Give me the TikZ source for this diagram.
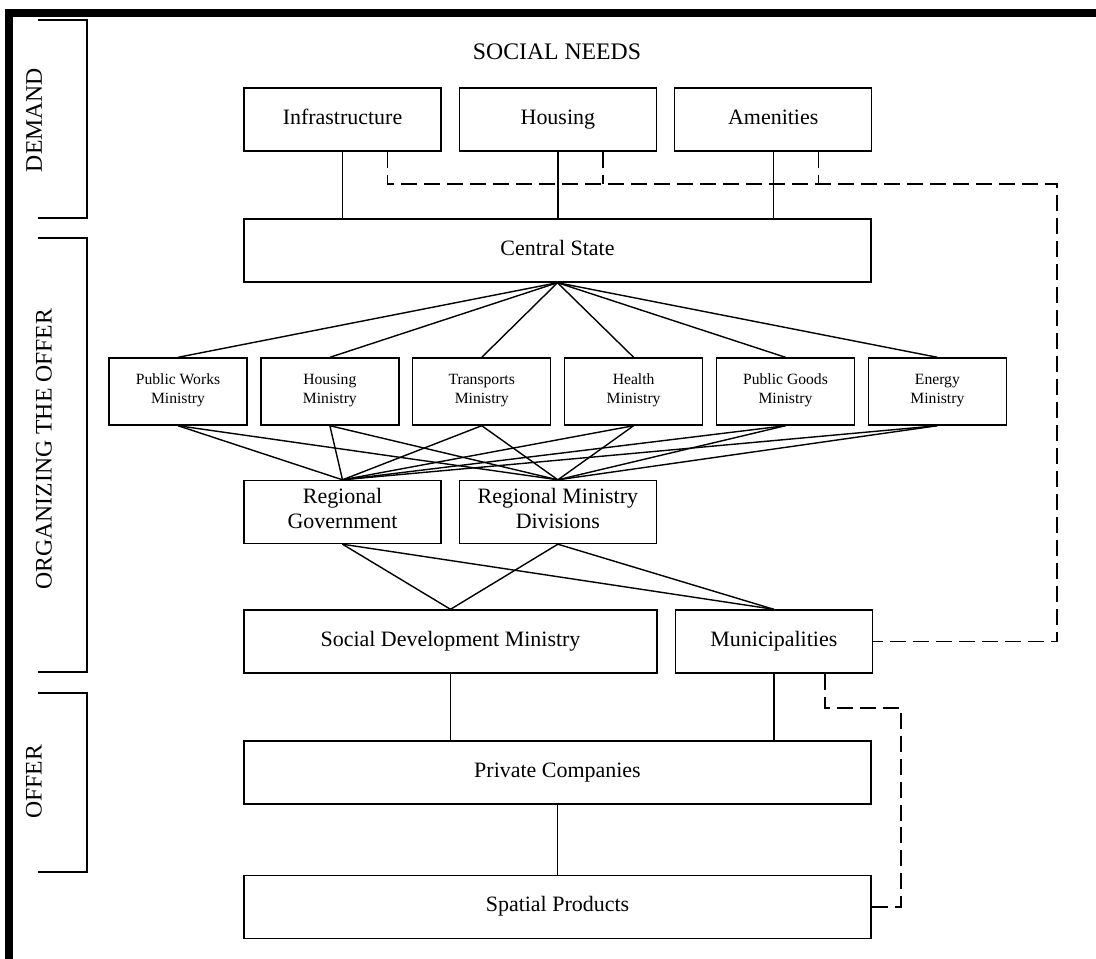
\documentclass[tikz,border=0pt]{standalone}
\usepackage{fontspec}
\setmainfont{Liberation Serif}
\usepackage{tikz}
\usetikzlibrary{positioning}
\tikzstyle{need}=[rectangle,draw=black,fill=white,line width=0.8pt,minimum width=3.94cm,minimum height=1.26cm,inner sep=0pt,align=center,font=\fontsize{12.5}{14.2}\selectfont,execute at begin node=\strut]
\tikzstyle{wide}=[need,minimum width=12.54cm]
\tikzstyle{ministry}=[need,minimum width=2.76cm,minimum height=1.34cm,font=\fontsize{8.9}{10.8}\selectfont]
\tikzstyle{level}=[font=\fontsize{13.5}{16}\selectfont,rotate=90]
\tikzstyle{link}=[line width=0.8pt]
\tikzstyle{feedback}=[line width=0.8pt,dash pattern=on 0.32cm off 0.14cm]
\def\blockdist{0.34cm}
\def\mindist{0.25cm}
\def\dropshift{0.9cm}
\begin{document}
\begin{tikzpicture}[x=0.02cm,y=-0.02cm]
		\useasboundingbox (0,0) rectangle (1096,958);
		% frame
		\draw[line width=0.16cm] (1120,13) -- (9,13) -- (9,980);

		% levels on the left
		\draw[link] (38,20) -- (87,20) -- (87,218) -- (38,218);
		\draw[link] (38,238) -- (87,238) -- (87,672) -- (38,672);
		\draw[link] (38,693) -- (87,693) -- (87,872) -- (38,872);
		\node[level] (demand) at (34,120) {DEMAND};
		\node[level] (organizing) at (44,449) {ORGANIZING THE OFFER};
		\node[level] (offer) at (34,782) {OFFER};

		% social needs
		\node[font=\fontsize{13.5}{16}\selectfont] (needs) at (557,52) {SOCIAL NEEDS};
		\node[need] (infra) at (342.5,119.5) {Infrastructure};
		\node[need,right=\blockdist of infra] (housing) {Housing};
		\node[need,right=\blockdist of housing] (amenities) {Amenities};

		% state and ministries
		\node[wide] (state) at (557.5,250.5) {Central State};
		\node[ministry] (pubworks) at (178,391.5) {Public Works\\Ministry};
		\node[ministry,right=\mindist of pubworks] (housmin) {Housing\\Ministry};
		\node[ministry,right=\mindist of housmin] (transmin) {Transports\\Ministry};
		\node[ministry,right=\mindist of transmin] (healthmin) {Health\\Ministry};
		\node[ministry,right=\mindist of healthmin] (goodsmin) {Public Goods\\Ministry};
		\node[ministry,right=\mindist of goodsmin] (energymin) {Energy\\Ministry};

		% regional level
		\node[need] (regov) at (342.5,512) {Regional\\Government};
		\node[need,right=\blockdist of regov] (regdiv) {Regional Ministry\\Divisions};

		% local level
		\node[need,minimum width=8.26cm] (socdev) at (450.5,641.5) {Social Development Ministry};
		\node[need,right=\blockdist of socdev] (muni) {Municipalities};

		% offer
		\node[wide] (private) at (557.5,772.5) {Private Companies};
		\node[wide,below=1.4cm of private] (spatial) {Spatial Products};

		% Connections
		\foreach \n in {infra,housing,amenities}
			\draw[link] (\n.south) -- (\n.south |- state.north);
		\foreach \m in {pubworks,housmin,transmin,healthmin,goodsmin,energymin} {
			\draw[link] (state.south) -- (\m.north);
			\foreach \r in {regov,regdiv}
				\draw[link] (\m.south) -- (\r.north);
		}
		\foreach \r in {regov,regdiv}
			\foreach \l in {socdev,muni}
				\draw[link] (\r.south) -- (\l.north);
		\draw[link] (socdev.south) -- (socdev.south |- private.north);
		\draw[link] (muni.south) -- (muni.south |- private.north);
		\draw[link] (private) -- (spatial);

		% feedback from municipalities
		\coordinate (bus) at (1057,184);
		\coordinate (infradrop) at ([xshift=\dropshift]infra.south);
		\coordinate (housdrop) at ([xshift=\dropshift]housing.south);
		\coordinate (amendrop) at ([xshift=\dropshift]amenities.south);
		\draw[feedback] (infradrop) |- (bus) |- (muni.east);
		\draw[feedback] (housdrop) -- (housdrop |- bus);
		\draw[feedback] (amendrop) -- (amendrop |- bus);
		\coordinate (munidrop) at ([xshift=1.02cm]muni.south);
		\coordinate (prodbend) at (901,708);
		\draw[feedback] (munidrop) |- (prodbend) |- (spatial.east);
	\end{tikzpicture}
\end{document}
